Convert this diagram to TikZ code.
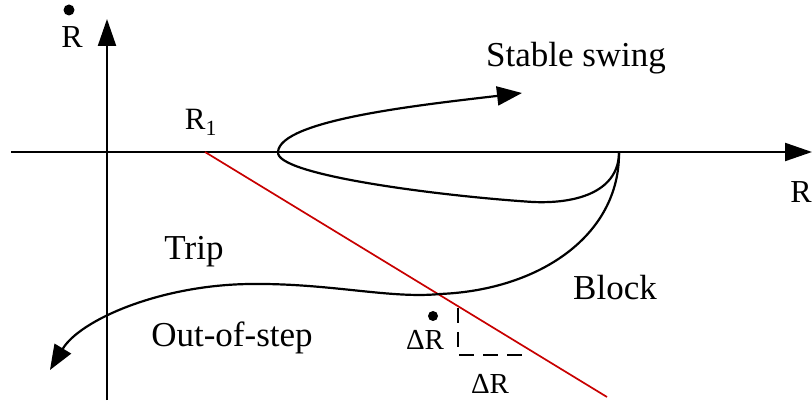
\documentclass[tikz,border=0pt]{standalone}
\usepackage{fontspec}
\setmainfont{Liberation Serif}
\usetikzlibrary{arrows.meta}
\definecolor{redline}{RGB}{200,0,0}
\tikzset{
  axis/.style={line width=2.2pt,-{Triangle[length=27pt,width=18pt]}},
  swing/.style={line width=2.2pt,-{Triangle[length=25pt,width=19pt]}},
  relay/.style={line width=1.7pt,draw=redline},
  guide/.style={line width=1.7pt,dash pattern=on 15pt off 9pt},
  biglabel/.style={inner sep=0pt,font=\fontsize{35}{40}\selectfont},
  axlabel/.style={inner sep=0pt,font=\fontsize{32}{36}\selectfont},
  smalllabel/.style={inner sep=0pt,font=\fontsize{29}{32}\selectfont},
  dotmark/.style={circle,fill=black,inner sep=0pt,minimum size=11pt}
}
\begin{document}
\begin{tikzpicture}[x=1pt,y=-1pt]
\useasboundingbox (0,0) rectangle (812,406);
% axes
\coordinate (ybot) at (107,400);
\coordinate (ytop) at (107,19);
\coordinate (xleft) at (11,152);
\coordinate (xright) at (812,152);
\draw[axis] (ybot) -- (ytop);
\draw[axis] (xleft) -- (xright);
% axis labels
\node[axlabel] (Rdot) at (72,37) {R};
\node[dotmark] (Rdotm) at (69,10) {};
\node[axlabel] (R) at (801,192) {R};
\node[inner sep=0pt,font=\fontsize{31}{34}\selectfont] (R1) at (201,122) {R\textsubscript{1}};
% relay characteristic
\coordinate (r1) at (205,152);
\coordinate (r2) at (607,397);
\draw[relay] (r1) -- (r2);
% slope triangle
\coordinate (d1) at (458,308);
\coordinate (d2) at (458,355);
\coordinate (d3) at (530,355);
\draw[guide] (d1) -- (d2) -- (d3);
\node[smalllabel] (dRv) at (425,340) {ΔR};
\node[dotmark,minimum size=10pt] (dRdot) at (433,316) {};
\node[smalllabel] (dRh) at (490,384) {ΔR};
% trajectories
\coordinate (s) at (619,152);
\draw[swing] (s) .. controls (619,190) and (580,204) .. (533,202)
  .. controls (440,196) and (275,175) .. (278,152)
  .. controls (280,120) and (420,105) .. (522,93);
\draw[swing] (s) .. controls (620,235) and (540,290) .. (440,294)
  .. controls (390,299) and (330,283) .. (250,284)
  .. controls (160,285) and (80,320) .. (50,370);
% region labels
\node[biglabel] (stable) at (576,58) {Stable swing};
\node[biglabel] (trip) at (194,252) {Trip};
\node[biglabel] (block) at (615,288) {Block};
\node[biglabel] (oos) at (232,338) {Out-of-step};
\end{tikzpicture}
\end{document}
